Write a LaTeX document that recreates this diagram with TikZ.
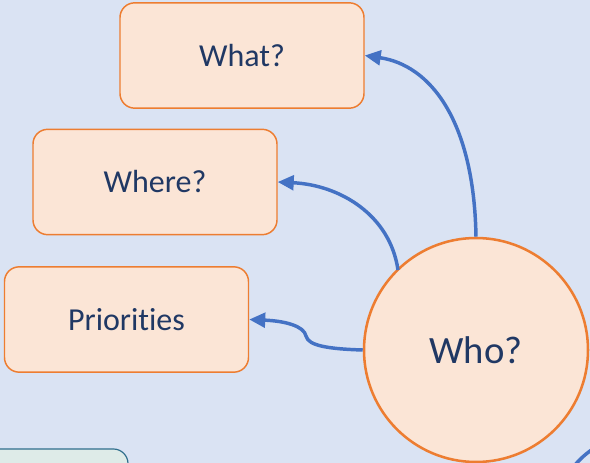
\documentclass[tikz,border=0pt]{standalone}
\usepackage{fontspec}
\setmainfont[Ligatures=NoCommon]{Carlito}
\usetikzlibrary{arrows.meta, backgrounds}

\begin{document}
\begin{tikzpicture}[x=0.75pt,y=-0.75pt,
  box/.style={rectangle,rounded corners=11pt,draw=boxline,fill=boxfill,line width=1.1pt,
    minimum width=183pt,minimum height=79pt,text=ink,font=\fontsize{24}{28}\selectfont},
  hub/.style={circle,draw=boxline,fill=boxfill,line width=1.9pt,minimum size=168pt,
    inner sep=0pt,text=ink,font=\fontsize{29}{34}\selectfont},
  link/.style={draw=linkblue,line width=2.6pt,-{Triangle[length=12pt,width=11pt]}}]
  \definecolor{page}{HTML}{DAE3F3}
  \definecolor{boxfill}{HTML}{FBE5D6}
  \definecolor{boxline}{HTML}{ED7D31}
  \definecolor{ink}{HTML}{203864}
  \definecolor{linkblue}{HTML}{4472C4}
  \definecolor{notefill}{HTML}{DEEBE8}
  \definecolor{noteline}{HTML}{2F6E8C}

  \useasboundingbox (0,0) rectangle (590,463);
  \clip (0,0) rectangle (590,463);
  \fill [page] (0,0) rectangle (590,463);

  \node [box] (what)  at (242,55.5)  {What?};
  \node [box] (where) at (155,182)   {Where?};
  \node [box] (prio)  at (126.5,319.5) {Priorities};
  \node [hub] (who)   at (476,350)   {Who?};

  \coordinate (offright) at (600,350);

  \draw [link] (who.north) .. controls (474,120) and (430,65) .. (what.east);
  \draw [link] (398,270) .. controls (390,215) and (340,185) .. (where.east);
  \draw [link] (who.west) .. controls (330,349) and (308,346) .. (306,336)
    .. controls (304,326) and (285,321) .. (prio.east);

  % pieces cut off by the page edge
  \begin{pgfonlayer}{background}
    \draw [linkblue,line width=2.6pt] (who.east) -- (offright);
  \end{pgfonlayer}
  \draw [noteline,fill=notefill,line width=0.9pt,rounded corners=11pt] (-20,449) rectangle (128,520);
  \draw [linkblue,line width=2.6pt] (642,522) circle (88);
\end{tikzpicture}
\end{document}
